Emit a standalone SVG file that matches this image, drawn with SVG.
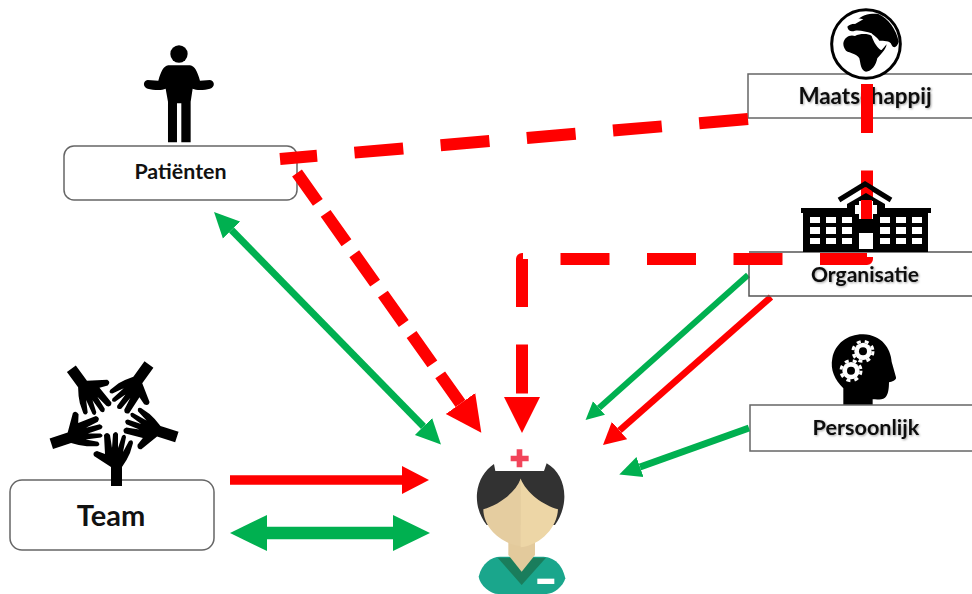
<svg xmlns="http://www.w3.org/2000/svg" xmlns:xlink="http://www.w3.org/1999/xlink" width="972" height="594" viewBox="0 0 972 594">
<style>
.box{fill:#fff;stroke:#666;stroke-width:1.5}
.lbl{font-family:"Lato","Open Sans","Liberation Sans",sans-serif;font-weight:700;fill:#111;text-anchor:middle}
.shd{filter:url(#ts)}
.ic{fill:#000}
.red{stroke:#f00;fill:none}
.grn{stroke:#00b050;fill:none}
.dash{stroke-dasharray:49 37.5;stroke-width:12;stroke-linejoin:round}
.dash2{stroke-dasharray:36 13.5;stroke-width:12}
</style>
<defs>
<filter id="ts" x="-10%" y="-20%" width="120%" height="150%"><feDropShadow dx="1" dy="1" stdDeviation=".8" flood-color="#000" flood-opacity=".35"/></filter>
<marker id="hRedBig" markerUnits="userSpaceOnUse" markerWidth="37" markerHeight="38" refX="0" refY="19" orient="auto"><path d="M0 1L36 19L0 37z" fill="#f00"/></marker>
<marker id="hRedTeam" markerUnits="userSpaceOnUse" markerWidth="28" markerHeight="30" refX="0" refY="15" orient="auto"><path d="M0 1L27 15L0 29z" fill="#f00"/></marker>
<marker id="hGrnTeam" markerUnits="userSpaceOnUse" markerWidth="38" markerHeight="38" refX="0" refY="19" orient="auto-start-reverse"><path d="M0 1L37 19L0 37z" fill="#00b050"/></marker>
<marker id="hGrnMid" markerUnits="userSpaceOnUse" markerWidth="26" markerHeight="26" refX="0" refY="13" orient="auto-start-reverse"><path d="M0 1L25 13L0 25z" fill="#00b050"/></marker>
<marker id="hGrnS" markerUnits="userSpaceOnUse" markerWidth="19" markerHeight="20" refX="0" refY="10" orient="auto"><path d="M0 1L18 10L0 19z" fill="#00b050"/></marker>
<marker id="hRedS" markerUnits="userSpaceOnUse" markerWidth="23" markerHeight="25" refX="0" refY="12.500" orient="auto"><path d="M0 1L22 12.500L0 24z" fill="#f00"/></marker>
<marker id="hGrnP" markerUnits="userSpaceOnUse" markerWidth="23" markerHeight="23" refX="0" refY="11.500" orient="auto"><path d="M0 1L22 11.500L0 22z" fill="#00b050"/></marker>
<path id="hand" d="M-2 66V47L-19 36Q-21 32-16 31L-8 34L-9 15Q-6 11-3 15L-1 28L0 14Q3 10 5 14L5 28L9 16Q12 13 13 17L10 32L16 21Q20 19 20 23L17 33Q14 40 9 47V66Z"/>
</defs>
<rect width="972" height="594" fill="#fff"/>

<g id="node-patienten">
<g class="ic" transform="translate(50 30) scale(.3333)">
<circle cx="387" cy="72" r="26"/>
<path d="M355 106H420C435 108 442 125 450 152L480 150C495 152 496 172 480 176C465 180 440 182 428 176L422 215V337H394V220H381V337H354V215L347 176C335 182 310 180 293 176C278 172 278 152 293 150L325 152C333 125 340 108 355 106Z"/>
</g>
<rect class="box" x="64" y="146" width="233" height="54" rx="10"/>
<text class="lbl" x="180.500" y="179" font-size="21.400">Patiënten</text>
</g>

<g id="node-team">
<rect class="box" x="10" y="480" width="204" height="70" rx="12"/>
<g class="ic">
<use xlink:href="#hand" transform="translate(113 420)"/>
<use xlink:href="#hand" transform="translate(113 420) rotate(72)"/>
<use xlink:href="#hand" transform="translate(113 420) rotate(144)"/>
<use xlink:href="#hand" transform="translate(113 420) rotate(216)"/>
<use xlink:href="#hand" transform="translate(113 420) rotate(288)"/>
</g>
<text class="lbl" x="111" y="526" font-size="29">Team</text>
</g>

<g id="node-persoonlijk">
<g transform="translate(740 320) scale(.3333)">
<path class="ic" d="M310 275V205C285 180 270 150 277 115C285 70 325 42 370 43C425 45 452 85 455 125L468 172C470 182 455 185 447 187C447 205 445 225 435 233C425 240 410 238 398 238V275Z"/>
<g fill="#fff"><circle cx="369" cy="94" r="26"/><circle cx="333" cy="152" r="26"/></g>
<g fill="none" stroke="#fff" stroke-width="9" stroke-dasharray="12 12.300"><circle cx="369" cy="94" r="30"/><circle cx="333" cy="152" r="30"/></g>
<g class="ic"><circle cx="369" cy="94" r="12"/><circle cx="333" cy="152" r="12"/></g>
</g>
<rect class="box" x="750" y="405" width="224" height="46"/>
<text class="lbl shd" x="866" y="435" font-size="21.600">Persoonlijk</text>
</g>

<g id="node-maatschappij">
<rect class="box" x="748" y="74" width="226" height="44"/>
<g transform="translate(740 0) scale(.3333)">
<circle cx="378" cy="132" r="103" fill="#fff" stroke="#000" stroke-width="9"/>
<path class="ic" d="M310 130C312 112 330 102 345 108C360 100 385 100 395 108C400 125 415 150 425 150L440 133C438 150 420 165 412 175C408 195 395 215 378 215C362 212 362 190 358 175C350 160 330 160 318 152C312 145 310 138 310 130Z"/>
<path class="ic" d="M322 80C330 70 345 75 350 62C365 45 390 40 415 42C445 55 470 90 476 125C472 140 462 148 455 135C450 118 430 125 418 122C410 110 398 105 395 100C380 95 360 90 345 92C335 95 325 95 322 80Z"/>
<path d="M332 70L355 55L370 58L345 72Z" fill="#fff"/>
</g>
<text class="lbl shd" x="865" y="104" font-size="22.400">Maatschappij</text>
</g>

<g id="connectors">
<path class="red dash" d="M748 119L280 159"/>
<path class="red dash" d="M867 84V259H522V397" marker-end="url(#hRedBig)"/>
<path class="red dash2" d="M297 173L460.500 403.500" marker-end="url(#hRedBig)"/>
<path class="grn" stroke-width="7" d="M231.500 230L423.500 426.500" marker-start="url(#hGrnMid)" marker-end="url(#hGrnMid)"/>
<path class="grn" stroke-width="6" d="M748 275L599 408" marker-end="url(#hGrnS)"/>
<path class="red" stroke-width="6.500" d="M771 297L619.500 430.500" marker-end="url(#hRedS)"/>
<path class="grn" stroke-width="7" d="M749 428L640 467" marker-end="url(#hGrnP)"/>
<path class="red" stroke-width="9.500" d="M230 480H402" marker-end="url(#hRedTeam)"/>
<path class="grn" stroke-width="12.500" d="M267 533H393" marker-start="url(#hGrnTeam)" marker-end="url(#hGrnTeam)"/>
</g>

<g id="node-organisatie">
<path d="M749 252H972M749 265V296H972" fill="none" stroke="#555" stroke-width="1.500"/>
<g class="ic">
<path d="M839 200L865 184L891 200" fill="none" stroke="#000" stroke-width="5"/>
<path d="M847 208V204L866 193L885 204V208Z"/>
<rect x="801" y="208" width="130" height="5"/>
<rect x="803" y="213" width="125" height="39"/>
</g>
<g fill="#fff">
<rect x="810" y="217" width="10" height="6"/><rect x="826" y="217" width="10" height="6"/><rect x="842" y="217" width="10" height="6"/>
<rect x="810" y="227" width="10" height="7"/><rect x="826" y="227" width="10" height="7"/><rect x="842" y="227" width="10" height="7"/>
<rect x="810" y="238" width="10" height="6"/><rect x="826" y="238" width="10" height="6"/><rect x="842" y="238" width="10" height="6"/>
<rect x="880" y="217" width="10" height="6"/><rect x="896" y="217" width="10" height="6"/><rect x="912" y="217" width="10" height="6"/>
<rect x="880" y="227" width="10" height="7"/><rect x="896" y="227" width="10" height="7"/><rect x="912" y="227" width="10" height="7"/>
<rect x="880" y="238" width="10" height="6"/><rect x="896" y="238" width="10" height="6"/><rect x="912" y="238" width="10" height="6"/>
<rect x="859" y="233" width="14" height="16"/>
<rect x="855" y="205" width="22" height="9"/>
<rect x="859" y="201" width="14" height="18"/>
</g>
<rect x="861" y="200" width="11" height="19" fill="#f00"/>
<path d="M861 190L866 187L872 191V194L866 192L861 195Z" fill="#f00"/>
<text class="lbl shd" x="865" y="282" font-size="21">Organisatie</text>
</g>

<g id="node-verpleegkundige" transform="translate(420 390) scale(.3333)">
<path d="M272 197H290V178H307V197H326V214H307V232H290V214H272Z" fill="#f2445a"/>
<path d="M176 560C185 520 215 500 240 500H365C395 500 425 515 436 565C430 590 400 612 380 612H235C210 612 180 585 176 560Z" fill="#1aa68c"/>
<path d="M233 503H378L305 585Z" fill="#1a7d5c"/>
<rect x="352" y="566" width="51" height="16" fill="#fff"/>
<path d="M265 450H345V495L305 545L265 495Z" fill="#e3ca9c"/>
<path d="M222 222L226 243H372L380 220C415 240 435 280 433 325C432 355 420 385 405 405H200C180 380 168 345 171 310C175 270 195 240 222 222Z" fill="#323232"/>
<path d="M302 266C285 310 235 345 190 358C190 410 240 462 303 468V266Z" fill="#e5cda0"/>
<path d="M302 266C320 310 370 345 414 358C412 410 365 465 302 472Z" fill="#edd6a6"/>
</g>
</svg>
